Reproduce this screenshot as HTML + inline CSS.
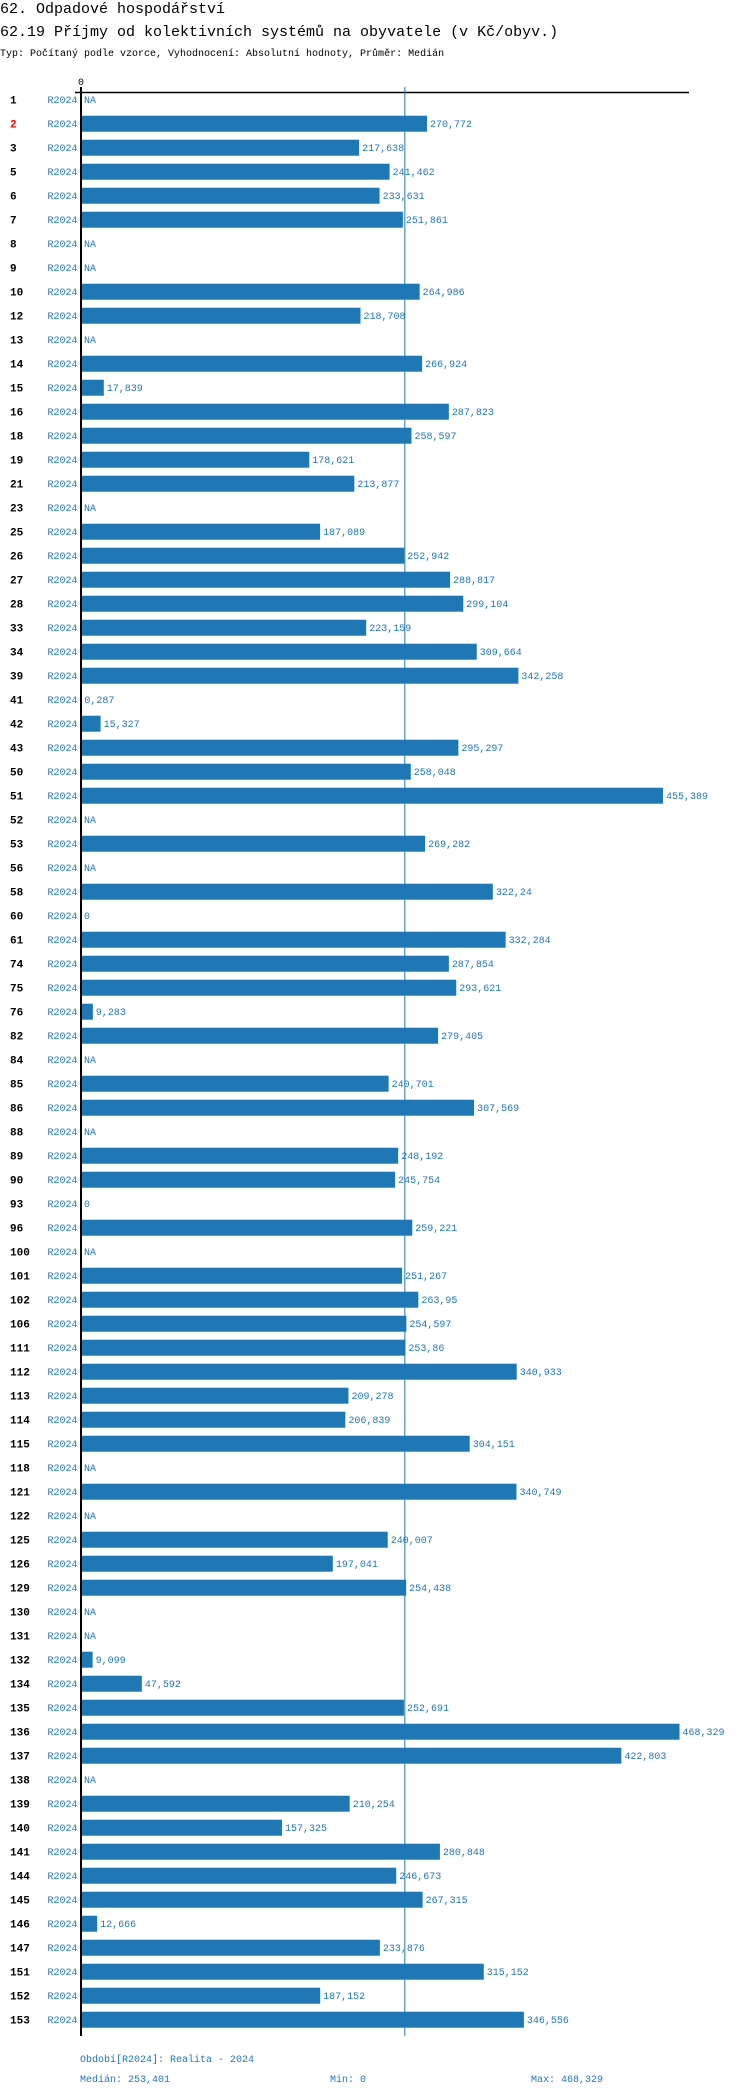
<!DOCTYPE html>
<html><head><meta charset="utf-8">
<style>
body{margin:0;background:#fff;width:750px;height:2096px;overflow:hidden;font-family:"Liberation Mono",monospace;}
#chart{position:absolute;left:0;top:0;}
</style></head>
<body>
<svg id="chart" width="750" height="2096" xmlns="http://www.w3.org/2000/svg" font-family="Liberation Mono, monospace">
<text x="0" y="13" font-size="15" fill="#000">62. Odpadové hospodářství</text>
<text x="0" y="36" font-size="15" fill="#000">62.19 Příjmy od kolektivních systémů na obyvatele (v Kč/obyv.)</text>
<text x="0" y="56" font-size="10" fill="#000">Typ: Počítaný podle vzorce, Vyhodnocení: Absolutní hodnoty, Průměr: Medián</text>
<text x="81" y="85" font-size="10" text-anchor="middle" fill="#000">0</text>
<line x1="75" y1="92.5" x2="689" y2="92.5" stroke="#000" stroke-width="1.5"/>
<g id="bars"></g>
<line x1="81" y1="87" x2="81" y2="2036" stroke="#000" stroke-width="2"/>
<line id="medline" x1="404.5" y1="87" x2="404.5" y2="2036" stroke="#1f77b4" stroke-width="1"/>
<text x="80" y="2062" font-size="10" fill="#1f77b4">Období[R2024]: Realita - 2024</text>
<text x="80" y="2082" font-size="10" fill="#1f77b4">Medián: 253,401</text>
<text x="330" y="2082" font-size="10" fill="#1f77b4">Min: 0</text>
<text x="531" y="2082" font-size="10" fill="#1f77b4">Max: 468,329</text>
</svg>
<script>
const categories=[1,2,3,5,6,7,8,9,10,12,13,14,15,16,18,19,21,23,25,26,27,28,33,34,39,41,42,43,50,51,52,53,56,58,60,61,74,75,76,82,84,85,86,88,89,90,93,96,100,101,102,106,111,112,113,114,115,118,121,122,125,126,129,130,131,132,134,135,136,137,138,139,140,141,144,145,146,147,151,152,153];
const values=[null,270.772,217.638,241.462,233.631,251.861,null,null,264.986,218.708,null,266.924,17.839,287.823,258.597,178.621,213.877,null,187.089,252.942,288.817,299.104,223.159,309.664,342.258,0.287,15.327,295.297,258.048,455.389,null,269.282,null,322.24,0,332.284,287.854,293.621,9.283,279.405,null,240.701,307.569,null,248.192,245.754,0,259.221,null,251.267,263.95,254.597,253.86,340.933,209.278,206.839,304.151,null,340.749,null,240.007,197.041,254.438,null,null,9.099,47.592,252.691,468.329,422.803,null,210.254,157.325,280.848,246.673,267.315,12.666,233.876,315.152,187.152,346.556];
const medianValue=253.401;
const highlighted=[2];
const X0=81,SC=1.278,TOP=91.7,PITCH=24,BH=16;
const xs=v=>X0+v*SC;
const NS="http://www.w3.org/2000/svg";
const g=document.getElementById('bars');
const fmt=v=>String(v).replace('.',',');
document.getElementById('medline').setAttribute('x1',xs(medianValue));
document.getElementById('medline').setAttribute('x2',xs(medianValue));
categories.forEach((c,i)=>{
  const top=TOP+PITCH*i, cy=top+BH/2;
  const t=document.createElementNS(NS,'text');
  
  
  t.setAttribute('x',10);t.setAttribute('y',cy+4);t.setAttribute('font-size','11');t.setAttribute('font-weight','bold');
  t.setAttribute('fill',highlighted.includes(c)?'#ff0000':'#000');t.textContent=c;g.appendChild(t);
  const p=document.createElementNS(NS,'text');
  
  
  p.setAttribute('x',47.5);p.setAttribute('y',cy+3.5);p.setAttribute('font-size','10');p.setAttribute('fill','#1f77b4');p.textContent='R2024';g.appendChild(p);
  const v=values[i];
  let lx=X0+3;
  if(v!==null && v>0){
    const r=document.createElementNS(NS,'rect');
    
    
    r.setAttribute('x',X0);r.setAttribute('y',top);r.setAttribute('width',v*SC);r.setAttribute('height',BH);r.setAttribute('fill','#1f77b4');g.appendChild(r);
    lx=xs(v)+3;
  }
  const l=document.createElementNS(NS,'text');
  
  
  l.setAttribute('x',lx);l.setAttribute('y',cy+3.5);l.setAttribute('font-size','10');l.setAttribute('fill','#1f77b4');
  l.textContent=v===null?'NA':fmt(v);g.appendChild(l);
});
</script>
</body></html>
